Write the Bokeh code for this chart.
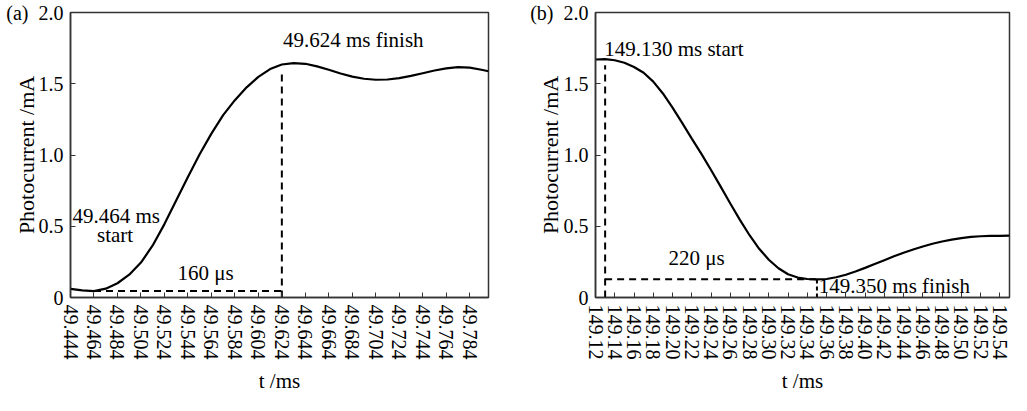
from bokeh.plotting import figure
from bokeh.layouts import row
from bokeh.models import FixedTicker, PrintfTickFormatter, CustomJSTickFormatter, Label, Range1d
from bokeh.embed import file_html
from bokeh.resources import INLINE

# ---------------- data ----------------
t_a = [49.444, 49.454, 49.464, 49.474, 49.484, 49.494, 49.504, 49.514, 49.524, 49.534,
       49.544, 49.554, 49.564, 49.574, 49.584, 49.594, 49.604, 49.614, 49.624, 49.634,
       49.644, 49.654, 49.664, 49.674, 49.684, 49.694, 49.704, 49.714, 49.724, 49.734,
       49.744, 49.754, 49.764, 49.774, 49.784, 49.794, 49.800]
i_a = [0.061, 0.050, 0.045, 0.062, 0.100, 0.160, 0.245, 0.365, 0.515, 0.680,
       0.845, 1.005, 1.150, 1.280, 1.385, 1.475, 1.548, 1.603, 1.635, 1.645,
       1.640, 1.622, 1.598, 1.572, 1.550, 1.535, 1.528, 1.530, 1.540, 1.555,
       1.574, 1.593, 1.608, 1.617, 1.613, 1.598, 1.588]

t_b = [149.12, 149.13, 149.14, 149.15, 149.16, 149.17, 149.18, 149.19, 149.20, 149.21,
       149.22, 149.23, 149.24, 149.25, 149.26, 149.27, 149.28, 149.29, 149.30, 149.31,
       149.32, 149.33, 149.34, 149.35, 149.36, 149.37, 149.38, 149.39, 149.40, 149.41,
       149.42, 149.43, 149.44, 149.45, 149.46, 149.47, 149.48, 149.49, 149.50, 149.51,
       149.52, 149.53, 149.54, 149.55]
i_b = [1.670, 1.673, 1.665, 1.647, 1.618, 1.577, 1.515, 1.432, 1.333, 1.225,
       1.115, 1.008, 0.895, 0.778, 0.660, 0.545, 0.437, 0.342, 0.265, 0.205,
       0.163, 0.140, 0.130, 0.127, 0.130, 0.142, 0.160, 0.183, 0.208, 0.235,
       0.262, 0.289, 0.314, 0.337, 0.358, 0.377, 0.393, 0.406, 0.417, 0.425,
       0.430, 0.432, 0.433, 0.434]

xticks_a = [49.444, 49.464, 49.484, 49.504, 49.524, 49.544, 49.564, 49.584, 49.604,
            49.624, 49.644, 49.664, 49.684, 49.704, 49.724, 49.744, 49.764, 49.784]
xticks_b = [149.12, 149.14, 149.16, 149.18, 149.20, 149.22, 149.24, 149.26, 149.28,
            149.30, 149.32, 149.34, 149.36, 149.38, 149.40, 149.42, 149.44, 149.46,
            149.48, 149.50, 149.52, 149.54]
yticks = [0, 0.5, 1.0, 1.5, 2.0]
panel_tags = ["(a)", "(b)"]

a_start, a_finish, a_low, a_top = 49.464, 49.624, 0.045, 1.58
b_start, b_finish, b_low, b_top = 149.130, 149.350, 0.128, 1.63

FONT = "Liberation Serif"
AX = "#333333"


def make(width, left, right, xr, xticks, fmt, tag):
    p = figure(width=width, height=395, output_backend="svg", toolbar_location=None,
               x_range=Range1d(*xr), y_range=Range1d(0, 2.0),
               min_border_left=left, min_border_right=right,
               min_border_top=12, min_border_bottom=95)
    p.grid.visible = False
    p.outline_line_color = AX
    p.outline_line_width = 1.5
    p.background_fill_color = "white"
    p.border_fill_color = "white"
    xa = p.xaxis[0]
    xa.ticker = FixedTicker(ticks=xticks, minor_ticks=[])
    xa.formatter = PrintfTickFormatter(format=fmt)
    xa.major_label_orientation = "vertical"
    xa.axis_label = "t /ms"
    xa.axis_label_standoff = 6
    ya = p.yaxis[0]
    ya.ticker = FixedTicker(ticks=yticks, minor_ticks=[])
    ya.formatter = CustomJSTickFormatter(
        args=dict(tag=tag),
        code="if (tick == 0) return '0'; if (tick == 2) return tag + '\\u2002' + tick.toFixed(1); return tick.toFixed(1);")
    ya.axis_label = "Photocurrent /mA"
    ya.axis_label_standoff = -36
    for ax in (xa, ya):
        ax.axis_line_color = AX
        ax.axis_line_width = 1.5
        ax.major_tick_line_color = AX
        ax.major_tick_line_width = 1
        ax.major_tick_in = 5
        ax.major_tick_out = 0
        ax.minor_tick_line_color = None
        ax.major_label_standoff = 7
        ax.major_label_text_font = FONT
        ax.major_label_text_font_size = "20px"
        ax.major_label_text_color = "black"
        ax.axis_label_text_font = FONT
        ax.axis_label_text_font_style = "normal"
        ax.axis_label_text_color = "black"
    xa.axis_label_text_font_size = "21px"
    ya.axis_label_text_font_size = "22px"
    return p


def lab(p, x, y, text, align="left", baseline="middle", size="21px"):
    p.add_layout(Label(x=x, y=y, text=text, text_align=align, text_baseline=baseline,
                       text_font=FONT, text_font_size=size, text_color="black"))


# ---------------- panel (a) ----------------
pa = make(500, 70, 12, (49.444, 49.800), xticks_a, "%.3f", panel_tags[0])
pa.line(t_a, i_a, line_color="black", line_width=2.2)
pa.line([a_start, a_finish], [a_low, a_low], line_color="black", line_width=2, line_dash="7 5")
pa.line([a_finish, a_finish], [0, a_top], line_color="black", line_width=2, line_dash="7 5")
lab(pa, 49.4457, 0.575, "49.464 ms")
lab(pa, 49.482, 0.44, "start", align="center")
lab(pa, 49.559, 0.17, "160 \u03bcs", align="center")
lab(pa, 49.625, 1.807, "49.624 ms finish")

# ---------------- panel (b) ----------------
pb = make(511, 95, 2, (149.12, 149.55), xticks_b, "%.2f", panel_tags[1])
pb.line(t_b, i_b, line_color="black", line_width=2.2)
pb.line([b_start, b_start], [0, b_top], line_color="black", line_width=2, line_dash="7 5")
pb.line([b_start, b_finish], [b_low, b_low], line_color="black", line_width=2, line_dash="7 5")
pb.line([b_finish, b_finish], [0, b_low], line_color="black", line_width=2, line_dash="4 3")
lab(pb, 149.129, 1.743, "149.130 ms start")
lab(pb, 149.225, 0.277, "220 \u03bcs", align="center")
lab(pb, 149.352, 0.08, "149.350 ms finish")

layout = row(pa, pb)
open("out.html", "w").write(file_html(layout, INLINE))
